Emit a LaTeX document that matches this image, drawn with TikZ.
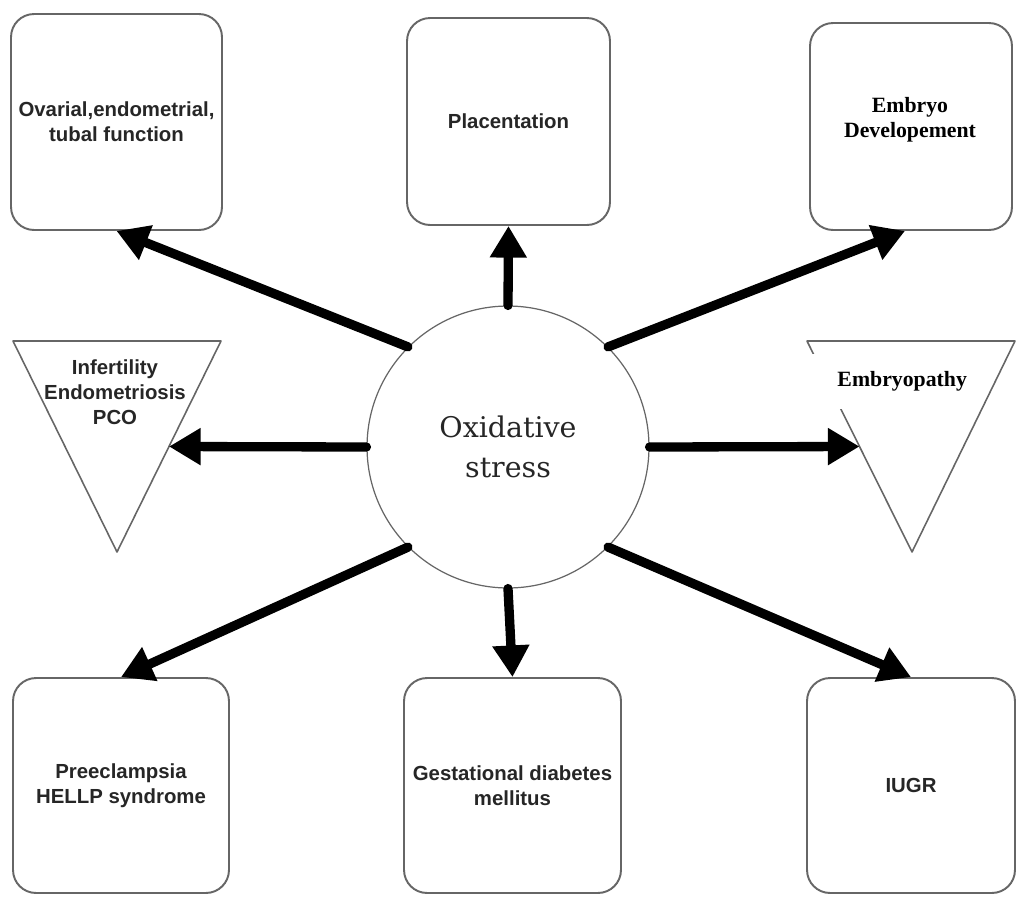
\documentclass[tikz,border=0pt]{standalone}
\usepackage{fontspec}
\newfontfamily\labelsans{Liberation Sans}
\newfontfamily\labelserif{Liberation Serif}
\newfontfamily\centreserif{DejaVu Serif}
\usetikzlibrary{arrows.meta}

\begin{document}
\begin{tikzpicture}[
    x=0.02cm, y=-0.02cm,
    box/.style={draw=black!60, line width=1.1pt, rounded corners=0.46cm, fill=white, inner sep=0pt},
    tri/.style={draw=black!60, line width=0.9pt, line join=round},
    arr/.style={-{Triangle[length=18pt, width=20pt]}, line width=5.3pt, line cap=round},
    sanslbl/.style={font=\labelsans\bfseries\fontsize{11.6}{14.2}\selectfont, text=black!85, align=center},
    seriflbl/.style={font=\labelserif\bfseries\fontsize{12.4}{14.2}\selectfont, align=center},
]
\useasboundingbox (0,0) rectangle (1017,896);
% --- centre ---
\node[circle, draw=black!60, line width=0.7pt, minimum size=5.64cm, inner sep=0pt,
      font=\centreserif\fontsize{16.2}{22.7}\selectfont, text=black!85, align=center] (osc) at (508,447) {Oxidative\\stress};
% --- top row ---
\node[box, sanslbl, minimum width=4.22cm, minimum height=4.32cm] (ova) at (116.5,122) {Ovarial,endometrial,\\tubal function};
\node[box, sanslbl, minimum width=4.06cm, minimum height=4.14cm] (plac) at (508.5,121.5) {Placentation};
\node[box, minimum width=4.04cm, minimum height=4.14cm] (embdev) at (911,126.5) {};
\node[seriflbl] (embdevtxt) at (910,120) {Embryo\\Developement};
% --- middle row: triangles ---
\draw[tri] (13,341) -- (221,341) -- (117,552) -- cycle;
\path (221,341) -- coordinate[pos=0.5] (inftip) (117,552);
\node[sanslbl] (infl) at (115,392) {Infertility\\Endometriosis\\PCO};
\draw[tri] (807,341) -- (1015,341) -- (912,552) -- cycle;
\path (807,341) -- coordinate[pos=0.5] (embtip) (912,552);
\node[seriflbl, fill=white, text width=3cm, align=right, inner xsep=0.12cm,
      minimum height=1.1cm] (embpath) at (892,381) {Embryopathy};
% --- bottom row ---
\node[box, sanslbl, minimum width=4.32cm, minimum height=4.3cm] (pre) at (121,785.5) {Preeclampsia\\HELLP syndrome};
\node[box, sanslbl, minimum width=4.34cm, minimum height=4.3cm] (gdm) at (512.5,785.5) {Gestational diabetes\\mellitus};
\node[box, sanslbl, minimum width=4.16cm, minimum height=4.3cm] (iugr) at (911,785.5) {IUGR};
% --- arrows ---
\draw[arr] (osc.135) -- (ova.south);
\draw[arr] (osc.north) -- (plac.south);
\draw[arr] (osc.45) -- ([xshift=-0.12cm]embdev.south);
\draw[arr] (osc.west) -- (inftip);
\draw[arr] (osc.east) -- (embtip);
\draw[arr] (osc.225) -- (pre.north);
\draw[arr] (osc.south) -- (gdm.north);
\draw[arr] (osc.315) -- (iugr.north);
\end{tikzpicture}
\end{document}
